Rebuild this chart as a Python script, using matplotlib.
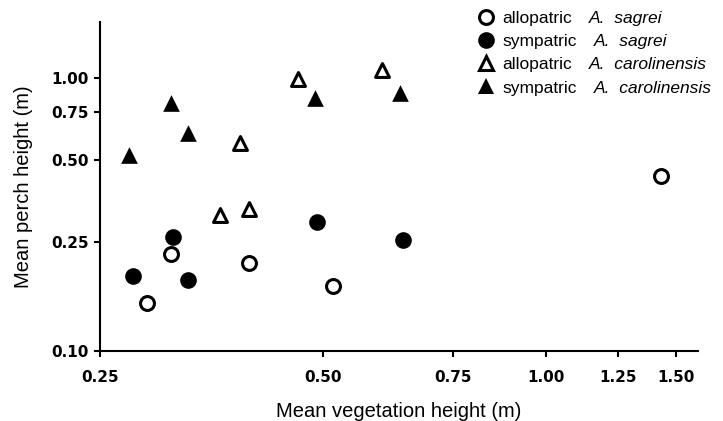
import matplotlib
matplotlib.use('Agg')
import matplotlib.pyplot as plt
from matplotlib.lines import Line2D

# (log-log axes)
allo_sagrei_x = [0.289, 0.312, 0.397, 0.516, 1.43]
allo_sagrei_y = [0.150, 0.226, 0.210, 0.173, 0.437]
sym_sagrei_x = [0.277, 0.314, 0.329, 0.491, 0.641]
sym_sagrei_y = [0.189, 0.262, 0.182, 0.297, 0.254]
allo_carol_x = [0.363, 0.397, 0.386, 0.463, 0.601]
allo_carol_y = [0.315, 0.330, 0.576, 0.989, 1.07]
sym_carol_x = [0.274, 0.312, 0.329, 0.488, 0.636]
sym_carol_y = [0.522, 0.807, 0.630, 0.846, 0.878]

x_ticks = [0.25, 0.50, 0.75, 1.00, 1.25, 1.50]
y_ticks = [0.10, 0.25, 0.50, 0.75, 1.00]
status = ['allopatric', 'sympatric', 'allopatric', 'sympatric']
species = ['A.  sagrei', 'A.  sagrei', 'A.  carolinensis', 'A.  carolinensis']

plt.rcParams['font.family'] = ['Liberation Sans', 'DejaVu Sans']

fig = plt.figure(figsize=(7.23, 4.21), dpi=100)
ax = fig.add_axes([100 / 723, 1 - 351 / 421, 598 / 723, 329 / 421])

open_kw = dict(facecolor='white', edgecolor='black', linewidths=2.2, zorder=3)
fill_kw = dict(color='black', linewidths=0, zorder=3)

ax.scatter(allo_sagrei_x, allo_sagrei_y, marker='o', s=10 ** 2, **open_kw)
ax.scatter(sym_sagrei_x, sym_sagrei_y, marker='o', s=12 ** 2, **fill_kw)
ax.scatter(allo_carol_x, allo_carol_y, marker='^', s=10 ** 2, **open_kw)
ax.scatter(sym_carol_x, sym_carol_y, marker='^', s=12 ** 2, **fill_kw)

ax.set_xscale('log')
ax.set_yscale('log')
ax.set_xlim(0.25, 1.604)
ax.set_ylim(0.10, 1.604)
ax.set_xticks(x_ticks, ['%.2f' % v for v in x_ticks])
ax.set_yticks(y_ticks, ['%.2f' % v for v in y_ticks])
ax.minorticks_off()

for lab in ax.get_xticklabels() + ax.get_yticklabels():
    lab.set_family('DejaVu Sans')
    lab.set_fontweight('bold')
    lab.set_fontsize(11)

ax.spines['top'].set_visible(False)
ax.spines['right'].set_visible(False)
ax.spines['left'].set_linewidth(1.5)
ax.spines['bottom'].set_linewidth(1.5)
ax.tick_params(direction='out', length=4, width=1.5)
ax.tick_params(axis='x', pad=10)
ax.tick_params(axis='y', pad=4)

ax.set_xlabel('Mean vegetation height (m)', fontsize=14.5, labelpad=12)
ax.set_ylabel('Mean perch height (m)', fontsize=14.5, labelpad=13)

# legend
handles = [
    Line2D([], [], ls='none', marker='o', ms=10, mfc='white', mec='black', mew=2.2),
    Line2D([], [], ls='none', marker='o', ms=12, mfc='black', mec='black', mew=0),
    Line2D([], [], ls='none', marker='^', ms=10, mfc='white', mec='black', mew=2.2),
    Line2D([], [], ls='none', marker='^', ms=12, mfc='black', mec='black', mew=0),
]
leg = ax.legend(handles, status, loc='upper left', bbox_to_anchor=(477 / 723, 1 - 11 / 421),
                bbox_transform=fig.transFigure, frameon=False, fontsize=12.5,
                handlelength=1.0, handletextpad=0.45, borderpad=0, labelspacing=0.46,
                borderaxespad=0)

fig.canvas.draw()
inv = fig.transFigure.inverted()
for t, sp in zip(leg.get_texts(), species):
    bb = t.get_window_extent()
    x0, y0 = inv.transform((bb.x1 + 17, bb.y0))
    fig.text(x0, y0, sp, fontsize=12.5, style='italic', va='bottom', ha='left')

fig.savefig('out.png', dpi=100)
